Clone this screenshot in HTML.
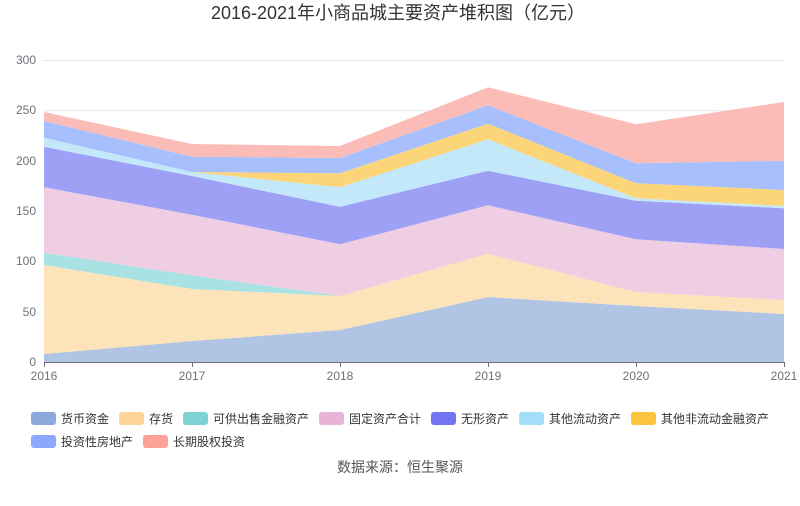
<!DOCTYPE html>
<html><head><meta charset="utf-8"><style>
body{margin:0;background:#fff;}
svg text{font-family:"Liberation Sans","Noto Sans CJK SC",sans-serif;}
</style></head><body>
<svg width="800" height="501" xmlns="http://www.w3.org/2000/svg">
<rect width="800" height="501" fill="#fff"/>
<text x="398" y="19" text-anchor="middle" font-size="18" fill="#333">2016-2021年小商品城主要资产堆积图（亿元）</text>
<g stroke="#e0e6f1" stroke-width="1">
<line x1="44" x2="784" y1="60.5" y2="60.5"/><line x1="44" x2="784" y1="110.8" y2="110.8"/>
<line x1="44" x2="784" y1="161.2" y2="161.2"/><line x1="44" x2="784" y1="211.5" y2="211.5"/>
<line x1="44" x2="784" y1="261.8" y2="261.8"/><line x1="44" x2="784" y1="312.2" y2="312.2"/>
</g>
<g font-size="12" fill="#6e7079" text-anchor="end">
<text x="36" y="64">300</text><text x="36" y="114">250</text><text x="36" y="165">200</text>
<text x="36" y="215">150</text><text x="36" y="265">100</text><text x="36" y="316">50</text><text x="36" y="366">0</text>
</g>
<g opacity="1">
<polygon fill="#b0c4e4" points="44,354 192,341 340,330 488,297 636,306 784,314 784,362 44,362"/>
<polygon fill="#fde3b9" points="44,265 192,289 340,296 488,253.7 636,292 784,300 784,314 636,306 488,297 340,330 192,341 44,354"/>
<polygon fill="#a9e2e3" points="44,252.7 192,275.3 340,296 488,253.7 636,292 784,300 784,300 636,292 488,253.7 340,296 192,289 44,265"/>
<polygon fill="#efcde3" points="44,187.3 192,214.7 340,244.3 488,205.3 636,239.3 784,249 784,300 636,292 488,253.7 340,296 192,275.3 44,252.7"/>
<polygon fill="#9ea0f6" points="44,146.7 192,176 340,206.7 488,170.7 636,200.7 784,208.3 784,249 636,239.3 488,205.3 340,244.3 192,214.7 44,187.3"/>
<polygon fill="#c2e8f9" points="44,137.7 192,172 340,187.3 488,139.3 636,198.3 784,206 784,208.3 636,200.7 488,170.7 340,206.7 192,176 44,146.7"/>
<polygon fill="#fdd579" points="44,137.7 192,172 340,173.3 488,123.7 636,183.3 784,190 784,206 636,198.3 488,139.3 340,187.3 192,172 44,137.7"/>
<polygon fill="#a8bffd" points="44,121 192,156.7 340,158 488,105.3 636,163.3 784,160.7 784,190 636,183.3 488,123.7 340,173.3 192,172 44,137.7"/>
<polygon fill="#fbbcb8" points="44,112 192,144 340,146 488,87.3 636,124.3 784,102 784,160.7 636,163.3 488,105.3 340,158 192,156.7 44,121"/>
</g>
<g stroke="#6e7079" stroke-width="1">
<line x1="44" x2="784" y1="362.5" y2="362.5"/>
<line x1="44.5" x2="44.5" y1="362" y2="367"/><line x1="192.5" x2="192.5" y1="362" y2="367"/>
<line x1="340.5" x2="340.5" y1="362" y2="367"/><line x1="488.5" x2="488.5" y1="362" y2="367"/>
<line x1="636.5" x2="636.5" y1="362" y2="367"/><line x1="784.5" x2="784.5" y1="362" y2="367"/>
</g>
<g font-size="12" fill="#6e7079" text-anchor="middle">
<text x="44" y="380">2016</text><text x="192" y="380">2017</text><text x="340" y="380">2018</text>
<text x="488" y="380">2019</text><text x="636" y="380">2020</text><text x="784" y="380">2021</text>
</g>
<g font-size="12" fill="#333">
<rect x="31" y="412" width="25" height="13" rx="3" fill="#8ca9db"/><text x="61" y="423">货币资金</text>
<rect x="119" y="412" width="25" height="13" rx="3" fill="#fdd59a"/><text x="149" y="423">存货</text>
<rect x="183" y="412" width="25" height="13" rx="3" fill="#7ed3d5"/><text x="213" y="423">可供出售金融资产</text>
<rect x="319" y="412" width="25" height="13" rx="3" fill="#e7b4d7"/><text x="349" y="423">固定资产合计</text>
<rect x="431" y="412" width="25" height="13" rx="3" fill="#7274f0"/><text x="461" y="423">无形资产</text>
<rect x="519" y="412" width="25" height="13" rx="3" fill="#a3def8"/><text x="549" y="423">其他流动资产</text>
<rect x="631" y="412" width="25" height="13" rx="3" fill="#fcc43d"/><text x="661" y="423">其他非流动金融资产</text>
<rect x="31" y="435" width="25" height="13" rx="3" fill="#8ca8fd"/><text x="61" y="446">投资性房地产</text>
<rect x="143" y="435" width="25" height="13" rx="3" fill="#fba197"/><text x="173" y="446">长期股权投资</text>
</g>
<text x="400" y="472" text-anchor="middle" font-size="14" fill="#555">数据来源：恒生聚源</text>
</svg>
</body></html>
